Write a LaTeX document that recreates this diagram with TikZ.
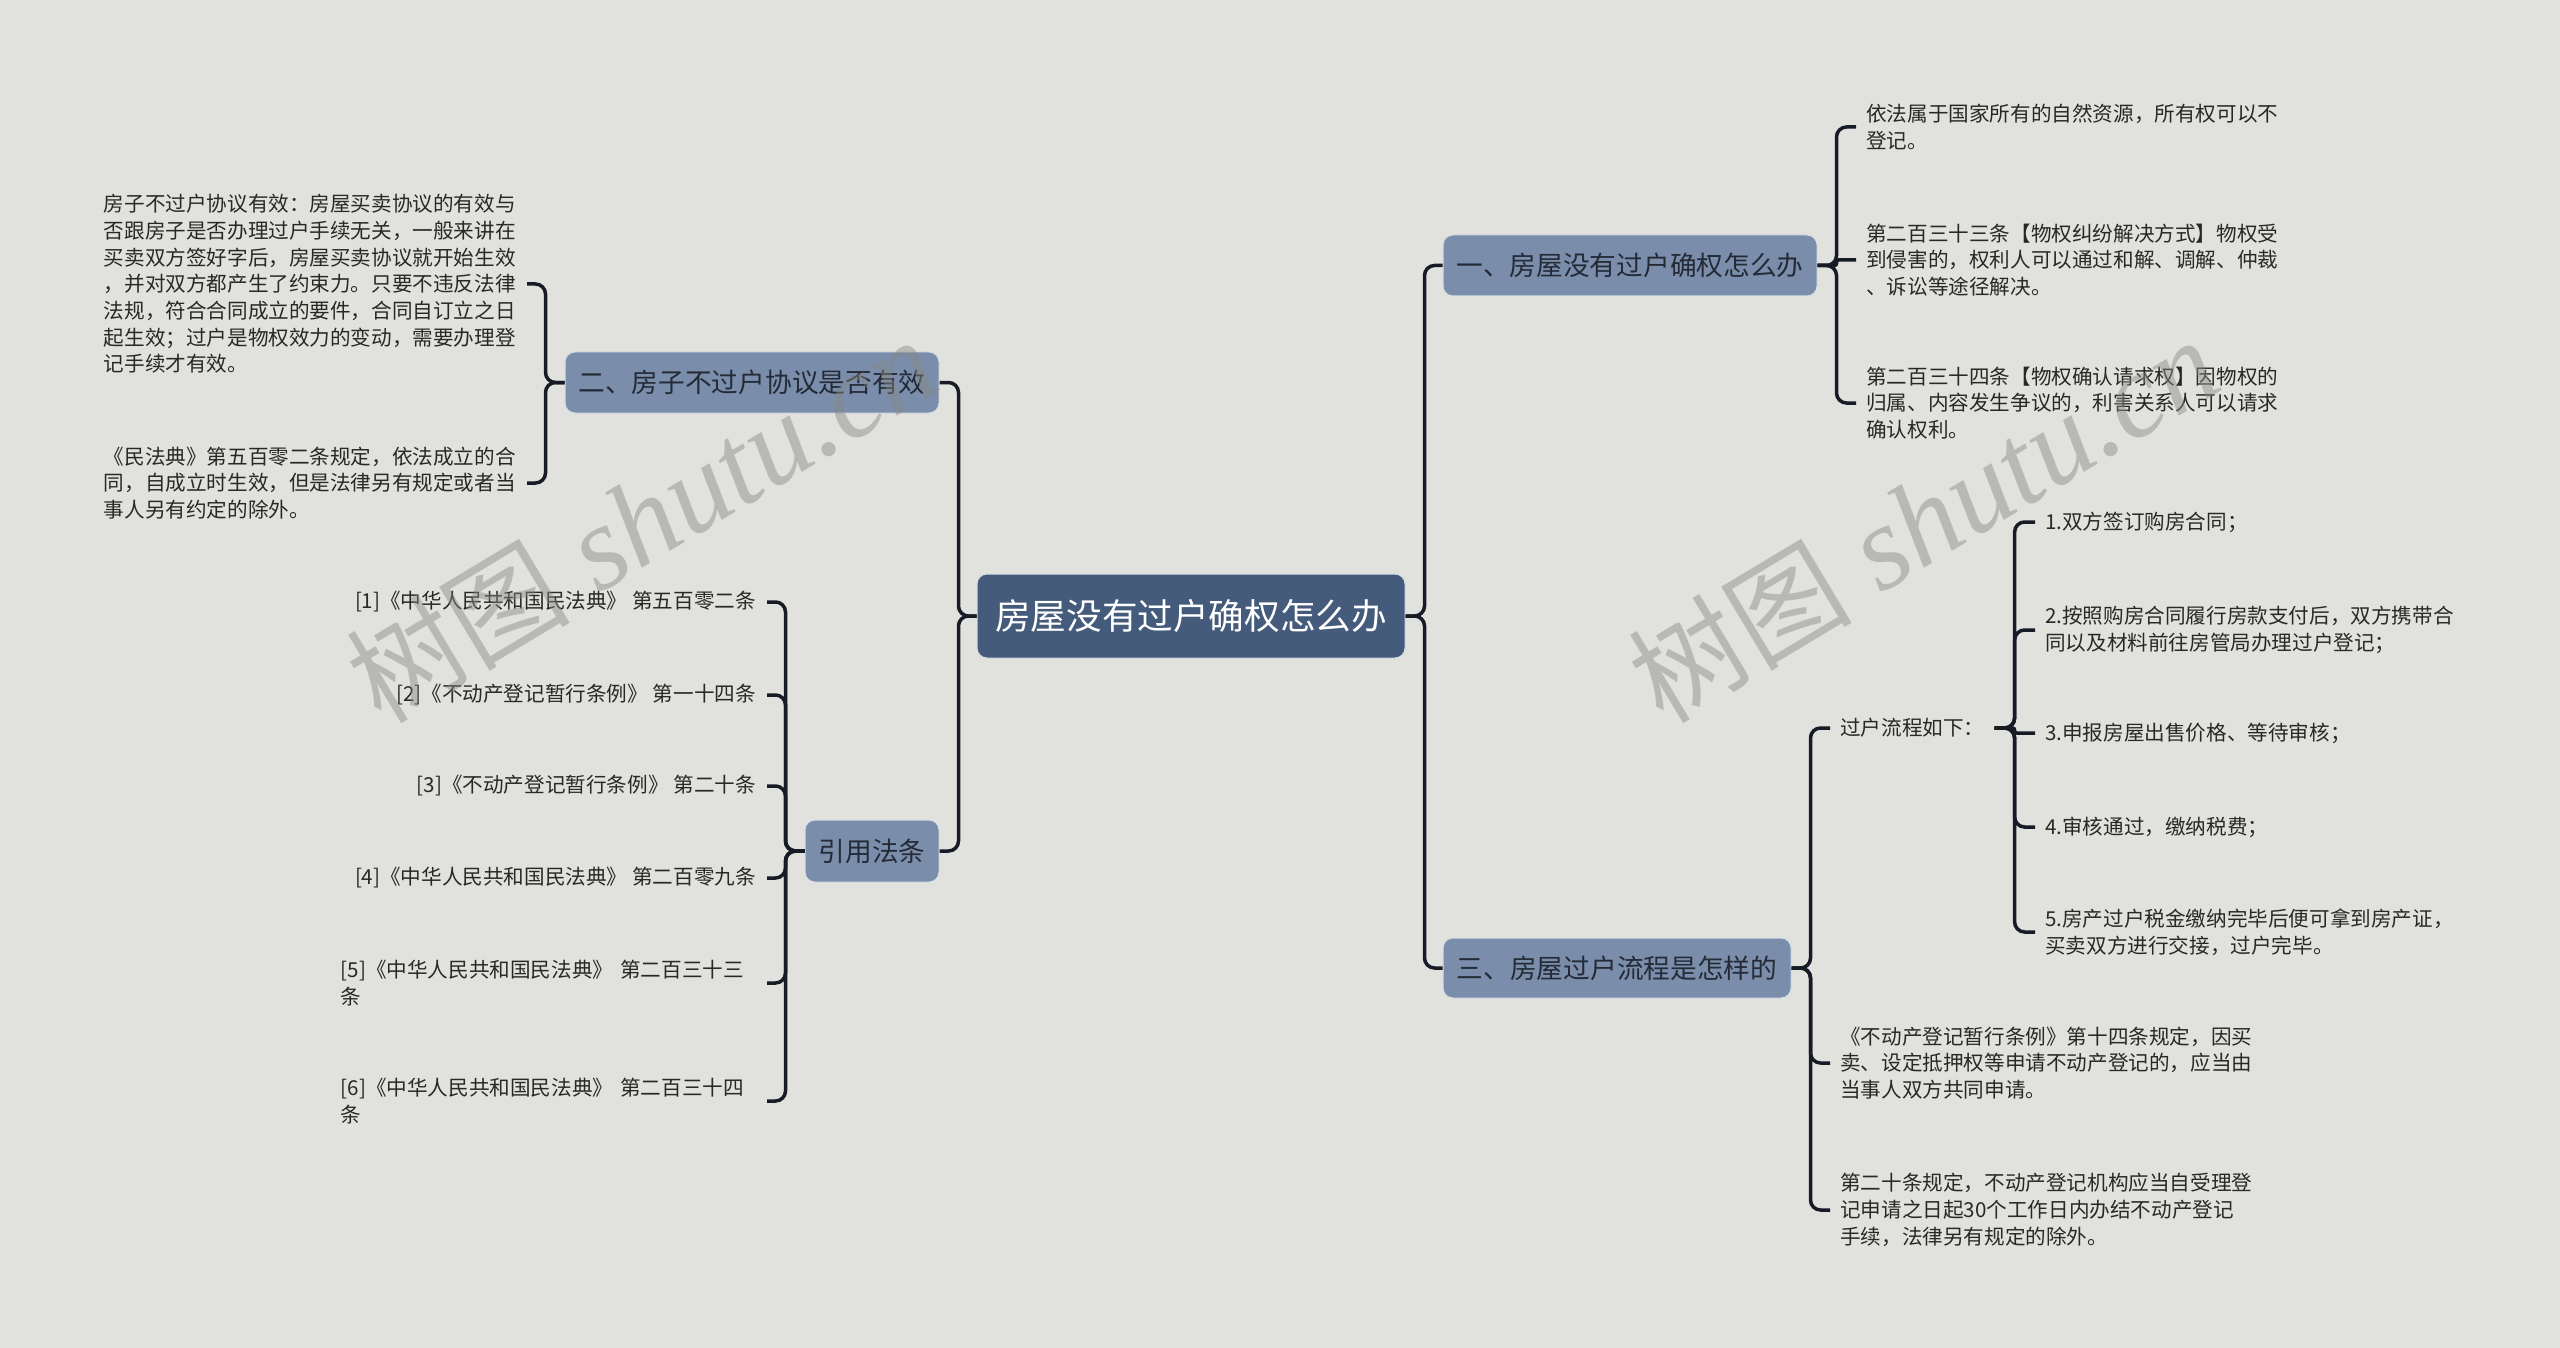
\documentclass[tikz,border=0pt]{standalone}
\usepackage{fontspec}
\newfontfamily\cjk{Noto Sans CJK SC}
\newfontfamily\wmserif{Liberation Serif}
\definecolor{bgc}{RGB}{225,226,222}
\definecolor{titlefill}{RGB}{68,91,123}
\definecolor{branchfill}{RGB}{122,142,171}
\definecolor{linec}{RGB}{22,27,38}
\definecolor{branchtext}{RGB}{36,42,54}
\definecolor{leaftext}{RGB}{40,40,40}
\definecolor{wmc}{RGB}{136,137,133}
\definecolor{boxedge}{RGB}{214,220,228}
\begin{document}
\begin{tikzpicture}[x=1pt,y=-1pt,
 titlebox/.style={rectangle, rounded corners=10pt, fill=titlefill, draw=boxedge, line width=1pt, minimum width=428pt, minimum height=84pt, inner sep=0pt, text=white, font=\cjk\fontsize{35.6}{40}\selectfont},
 branchbox/.style={rectangle, rounded corners=10pt, fill=branchfill, draw=boxedge, line width=1pt, minimum height=61pt, inner sep=0pt, text=branchtext, font=\cjk\fontsize{26.7}{32}\selectfont},
 leaf/.style={inner xsep=10pt, inner ysep=0pt, align=left, text=leaftext, font=\cjk\fontsize{20.6}{26.7}\selectfont},
 lleaf/.style={leaf, inner xsep=11pt},
 conn/.style={draw=linec, line width=3.5pt, rounded corners=10pt},
 wm/.style={rotate=31, text=wmc, text opacity=0.45, inner sep=0pt, font=\wmserif\itshape\fontsize{120}{120}\selectfont},
]
\useasboundingbox (0,0) rectangle (2560,1348);
\fill[bgc] (0,0) rectangle (2560,1348);

% central and main branches
\node[titlebox] (T) at (1191,616) {房屋没有过户确权怎么办};
\node[branchbox, minimum width=374pt] (B1) at (1630,265.5) {一、房屋没有过户确权怎么办};
\node[branchbox, minimum width=374pt] (B2) at (752,382.5) {二、房子不过户协议是否有效};
\node[branchbox, minimum width=348pt, minimum height=60pt] (B3) at (1617,968) {三、房屋过户流程是怎样的};
\node[branchbox, minimum width=134pt, minimum height=62pt] (Ref) at (872,851) {引用法条};

% branch 1 leaves
\node[leaf, anchor=west] (L11) at (1856,127) {依法属于国家所有的自然资源，所有权可以不\\登记。};
\node[leaf, anchor=west] (L12) at (1856,260) {第二百三十三条【物权纠纷解决方式】物权受\\到侵害的，权利人可以通过和解、调解、仲裁\\、诉讼等途径解决。};
\node[leaf, anchor=west] (L13) at (1856,403) {第二百三十四条【物权确认请求权】因物权的\\归属、内容发生争议的，利害关系人可以请求\\确认权利。};

% branch 3 leaves
\node[leaf, anchor=west] (P) at (1830,728) {过户流程如下：};
\node[leaf, anchor=west] (L32) at (1830,1063) {《不动产登记暂行条例》第十四条规定，因买\\卖、设定抵押权等申请不动产登记的，应当由\\当事人双方共同申请。};
\node[leaf, anchor=west] (L33) at (1830,1210) {第二十条规定，不动产登记机构应当自受理登\\记申请之日起30个工作日内办结不动产登记\\手续，法律另有规定的除外。};

\node[leaf, anchor=west] (S1) at (2035,522) {1.双方签订购房合同；};
\node[leaf, anchor=west] (S2) at (2035,630) {2.按照购房合同履行房款支付后，双方携带合\\同以及材料前往房管局办理过户登记；};
\node[leaf, anchor=west] (S3) at (2035,733) {3.申报房屋出售价格、等待审核；};
\node[leaf, anchor=west] (S4) at (2035,827) {4.审核通过，缴纳税费；};
\node[leaf, anchor=west] (S5) at (2035,932) {5.房产过户税金缴纳完毕后便可拿到房产证，\\买卖双方进行交接，过户完毕。};

% branch 2 leaves
\node[lleaf, anchor=east] (L21) at (527,284) {房子不过户协议有效：房屋买卖协议的有效与\\否跟房子是否办理过户手续无关，一般来讲在\\买卖双方签好字后，房屋买卖协议就开始生效\\，并对双方都产生了约束力。只要不违反法律\\法规，符合合同成立的要件，合同自订立之日\\起生效；过户是物权效力的变动，需要办理登\\记手续才有效。};
\node[lleaf, anchor=east] (L22) at (527,483) {《民法典》第五百零二条规定，依法成立的合\\同，自成立时生效，但是法律另有规定或者当\\事人另有约定的除外。};

% references
\node[lleaf, anchor=east] (R1) at (767,602) {[1]《中华人民共和国民法典》 第五百零二条};
\node[lleaf, anchor=east] (R2) at (767,695) {[2]《不动产登记暂行条例》 第一十四条};
\node[lleaf, anchor=east] (R3) at (767,786) {[3]《不动产登记暂行条例》 第二十条};
\node[lleaf, anchor=east] (R4) at (767,878) {[4]《中华人民共和国民法典》 第二百零九条};
\node[lleaf, anchor=east, text width=415pt] (R5) at (767,983) {[5]《中华人民共和国民法典》 第二百三十三\\条};
\node[lleaf, anchor=east, text width=415pt] (R6) at (767,1101) {[6]《中华人民共和国民法典》 第二百三十四\\条};

% connectors
\draw[conn] (T.east) -- ++(19,0) |- (B1.west);
\draw[conn] (T.east) -- ++(19,0) |- (B3.west);
\draw[conn] (T.west) -- ++(-18,0) |- (B2.east);
\draw[conn] (T.west) -- ++(-18,0) |- (Ref.east);

\draw[conn] (B1.east) -- ++(19,0) |- (L11.west);
\draw[conn, rounded corners=2pt] (B1.east) -- ++(19,0) |- (L12.west);
\draw[conn] (B1.east) -- ++(19,0) |- (L13.west);

\draw[conn] (B3.east) -- ++(19,0) |- (P.west);
\draw[conn] (B3.east) -- ++(19,0) |- (L32.west);
\draw[conn] (B3.east) -- ++(19,0) |- (L33.west);

\draw[conn] (P.east) -- ++(20,0) |- (S1.west);
\draw[conn] (P.east) -- ++(20,0) |- (S2.west);
\draw[conn, rounded corners=2pt] (P.east) -- ++(20,0) |- (S3.west);
\draw[conn] (P.east) -- ++(20,0) |- (S4.west);
\draw[conn] (P.east) -- ++(20,0) |- (S5.west);

\draw[conn] (B2.west) -- ++(-19,0) |- (L21.east);
\draw[conn] (B2.west) -- ++(-19,0) |- (L22.east);

\draw[conn] (Ref.west) -- ++(-19,0) |- (R1.east);
\draw[conn] (Ref.west) -- ++(-19,0) |- (R2.east);
\draw[conn] (Ref.west) -- ++(-19,0) |- (R3.east);
\draw[conn] (Ref.west) -- ++(-19,0) |- (R4.east);
\draw[conn] (Ref.west) -- ++(-19,0) |- (R5.east);
\draw[conn] (Ref.west) -- ++(-19,0) |- (R6.east);

% watermarks
\node[wm] (W1) at (641,520) {{\cjk\fontsize{112}{112}\selectfont 树图} shutu.cn};
\node[wm] (W2) at (1923,520) {{\cjk\fontsize{112}{112}\selectfont 树图} shutu.cn};
\end{tikzpicture}
\end{document}
